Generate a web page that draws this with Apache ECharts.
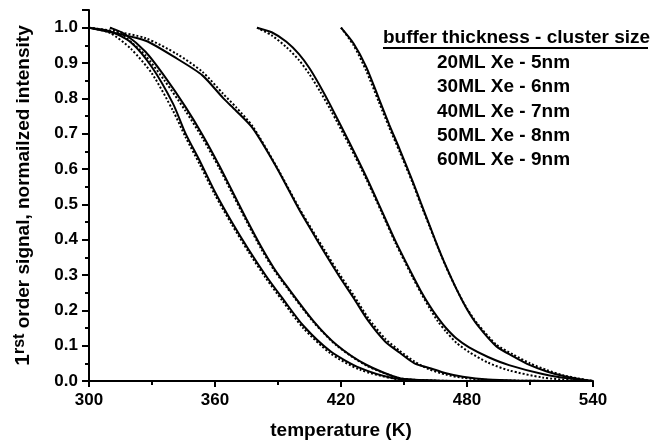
<!DOCTYPE html>
<html>
<head>
<meta charset="utf-8">
<script src="https://cdn.jsdelivr.net/npm/echarts@6/dist/echarts.min.js"></script>
<style>
  html, body { margin: 0; padding: 0; background: #fff; }
  #chart { width: 651px; height: 445px; }
</style>
</head>
<body>
<div id="chart"></div>
<script>
// temperature (K) and normalized 1rst order signal
var t1 = [300, 310, 320, 330, 340, 346, 353, 360, 368, 376, 384, 392, 402, 415, 429, 445, 460, 480];
var s1 = [1.0, 0.99, 0.958, 0.888, 0.785, 0.70, 0.62, 0.535, 0.45, 0.372, 0.30, 0.235, 0.157, 0.084, 0.037, 0.008, 0.002, 0.0];
var f1 = [1.0, 0.985, 0.94, 0.87, 0.765, 0.69, 0.61, 0.527, 0.443, 0.365, 0.293, 0.228, 0.15, 0.078, 0.032, 0.007, 0.001, 0.0];

var t2 = [310, 317, 327, 336, 346, 354, 362, 368, 375, 382, 388, 394, 407, 418, 432, 448, 465, 480];
var s2 = [1.0, 0.982, 0.931, 0.862, 0.775, 0.697, 0.61, 0.54, 0.458, 0.38, 0.32, 0.27, 0.169, 0.102, 0.046, 0.008, 0.001, 0.0];
var f2 = [1.0, 0.975, 0.92, 0.85, 0.764, 0.688, 0.603, 0.533, 0.452, 0.374, 0.315, 0.266, 0.166, 0.1, 0.044, 0.008, 0.001, 0.0];

var t3 = [300, 312, 327, 342, 354, 364, 370, 378, 389, 400, 406, 412, 419, 426, 433, 441, 448, 455, 462, 470, 478, 490, 505, 520];
var s3 = [1.0, 0.985, 0.963, 0.912, 0.865, 0.8, 0.765, 0.715, 0.608, 0.486, 0.425, 0.365, 0.298, 0.235, 0.17, 0.112, 0.08, 0.05, 0.037, 0.022, 0.012, 0.004, 0.001, 0.0];
var f3 = [1.0, 0.99, 0.97, 0.925, 0.875, 0.812, 0.775, 0.72, 0.61, 0.49, 0.43, 0.372, 0.305, 0.243, 0.178, 0.12, 0.085, 0.055, 0.033, 0.018, 0.009, 0.003, 0.001, 0.0];

var t4 = [380, 387, 394, 400, 405, 410, 415, 424, 432, 439, 446, 454, 458, 462, 466, 470, 475, 481, 490, 500, 516, 530, 540];
var s4 = [1.0, 0.987, 0.96, 0.925, 0.885, 0.835, 0.78, 0.675, 0.578, 0.487, 0.395, 0.30, 0.255, 0.215, 0.18, 0.15, 0.12, 0.095, 0.068, 0.045, 0.02, 0.006, 0.0];
var f4 = [1.0, 0.978, 0.945, 0.908, 0.868, 0.82, 0.768, 0.667, 0.572, 0.482, 0.39, 0.295, 0.25, 0.208, 0.17, 0.14, 0.108, 0.082, 0.052, 0.03, 0.01, 0.002, 0.0];

var t5 = [420, 426, 432, 438, 443, 448, 454, 458, 462, 466, 470, 475, 480, 485, 494, 502, 510, 518, 526, 534, 540];
var s5 = [1.0, 0.955, 0.889, 0.80, 0.725, 0.655, 0.567, 0.505, 0.443, 0.382, 0.325, 0.26, 0.203, 0.158, 0.098, 0.07, 0.045, 0.027, 0.014, 0.005, 0.0];
var f5 = [1.0, 0.95, 0.878, 0.79, 0.717, 0.648, 0.562, 0.5, 0.44, 0.38, 0.323, 0.26, 0.205, 0.162, 0.103, 0.075, 0.05, 0.031, 0.016, 0.006, 0.0];

var legendTitle = 'buffer thickness - cluster size';
var sampleNames = ['20ML Xe - 5nm', '30ML Xe - 6nm', '40ML Xe - 7nm', '50ML Xe - 8nm', '60ML Xe - 9nm'];

var temps = [t1, t2, t3, t4, t5];
var signals = [s1, s2, s3, s4, s5];
var fits = [f1, f2, f3, f4, f5];

var font = '"Liberation Sans", Arial, sans-serif';

function pairs(t, v) {
    return t.map(function (x, i) { return [x, v[i]]; });
}

var series = [];
for (let i = 0; i < 5; i++) {
    series.push({
        name: sampleNames[i] + ' fit',
        type: 'line',
        data: pairs(temps[i], fits[i]),
        showSymbol: false,
        smooth: 0.25,
        lineStyle: { color: '#000', width: 2, type: [2, 2] },
        z: 2
    });
    series.push({
        name: sampleNames[i],
        type: 'line',
        data: pairs(temps[i], signals[i]),
        showSymbol: false,
        smooth: 0.25,
        lineStyle: { color: '#000', width: 2 },
        z: 3
    });
}

// legend text drawn as plain text, like the original
var graphics = [{
    type: 'text', x: 383, y: 38,
    style: { text: legendTitle, font: 'bold 19px ' + font, fill: '#000', verticalAlign: 'middle' }
}, {
    type: 'line',
    shape: { x1: 383, y1: 48, x2: 648, y2: 48 },
    style: { stroke: '#000', lineWidth: 2 }
}];
sampleNames.forEach(function (n, i) {
    graphics.push({
        type: 'text', x: 437, y: 63 + i * 24.2,
        style: { text: n, font: 'bold 19px ' + font, fill: '#000', verticalAlign: 'middle' }
    });
});

var chart = echarts.init(document.getElementById('chart'));
chart.setOption({
    backgroundColor: '#fff',
    animation: false,
    grid: { left: 89, right: 58, top: 10, bottom: 62 },
    xAxis: {
        type: 'value', min: 300, max: 540, interval: 60,
        name: 'temperature (K)', nameLocation: 'middle', nameGap: 40,
        nameTextStyle: { fontFamily: font, fontWeight: 'bold', fontSize: 19, color: '#000' },
        axisLine: { lineStyle: { color: '#000', width: 2 } },
        axisTick: { length: 6, lineStyle: { color: '#000', width: 2 } },
        minorTick: { show: true, splitNumber: 2, length: 4, lineStyle: { color: '#000', width: 2 } },
        splitLine: { show: false },
        axisLabel: { color: '#000', fontFamily: font, fontWeight: 'bold', fontSize: 17, margin: 11 }
    },
    yAxis: {
        type: 'value', min: 0, max: 1.05, interval: 0.1,
        name: '{b|1}{s|rst}{n| order signal, normailzed intensity}',
        nameLocation: 'middle', nameGap: 50, nameRotate: 90,
        nameTextStyle: {
            color: '#000',
            rich: {
                b: { fontFamily: font, fontWeight: 'bold', fontSize: 21, lineHeight: 22, verticalAlign: 'bottom', color: '#000' },
                n: { fontFamily: font, fontWeight: 'bold', fontSize: 19, lineHeight: 20, verticalAlign: 'bottom', color: '#000' },
                s: { fontFamily: font, fontWeight: 'bold', fontSize: 16, lineHeight: 16, verticalAlign: 'top', padding: [0, 0, 16, 0], color: '#000' }
            }
        },
        axisLine: { show: true, lineStyle: { color: '#000', width: 2 } },
        axisTick: { show: true, length: 7, lineStyle: { color: '#000', width: 2 } },
        minorTick: { show: true, splitNumber: 2, length: 4, lineStyle: { color: '#000', width: 2 } },
        splitLine: { show: false },
        axisLabel: {
            color: '#000', fontFamily: font, fontWeight: 'bold', fontSize: 17, margin: 11,
            formatter: function (v) {
                return Math.abs(v * 10 - Math.round(v * 10)) < 1e-6 ? v.toFixed(1) : '';
            }
        }
    },
    graphic: graphics,
    series: series
});
</script>
</body>
</html>
